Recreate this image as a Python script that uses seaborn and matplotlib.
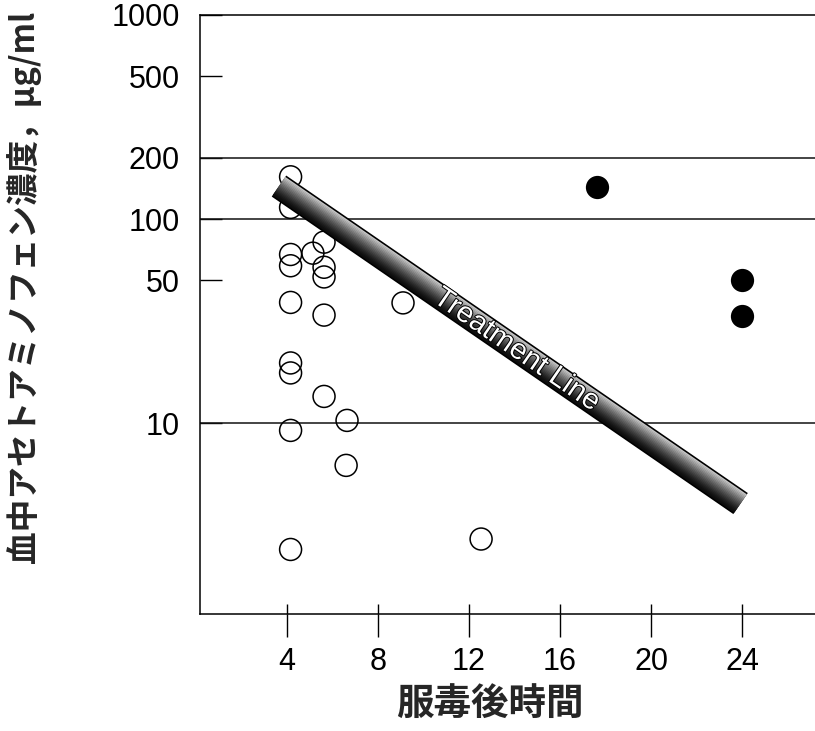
import numpy as np
import matplotlib
matplotlib.use("Agg")
import matplotlib.pyplot as plt
import matplotlib.patheffects as pe
from matplotlib.ticker import FixedLocator, NullLocator
import seaborn as sns

# hours after ingestion vs. serum acetaminophen (ug/ml)
open_x = [4.16, 4.16, 4.16, 4.16, 4.16, 4.16, 4.16, 4.16, 4.16,
          5.14, 5.63, 5.63, 5.63, 5.63, 5.63, 6.64, 6.6, 9.1, 12.53]
open_y = [161, 114, 67, 59, 39, 19.7, 17.6, 9.2, 2.4,
          68, 77, 58, 52, 33.8, 13.5, 10.3, 6.2, 38.8, 2.7]

filled_x = [17.63, 24.0, 24.0]
filled_y = [144, 50, 33.4]

# treatment line end points
treat_x = [3.65, 23.93]
treat_y = [145, 4.03]
treat_label = "Treatment Line"

x_ticks = [4, 8, 12, 16, 20, 24]
y_ticks = [10, 50, 100, 200, 500, 1000]
grid_vals = [10, 100, 200]

ylabel = "血中アセトアミノフェン濃度，μg/ml"
xlabel = "服毒後時間"

sns.set_theme(style="ticks")
plt.rcParams["font.family"] = ["Liberation Sans", "DejaVu Sans"]
jp_font = ["Noto Sans CJK JP", "DejaVu Sans"]

fig = plt.figure(figsize=(8.15, 7.31), dpi=100)
ax = fig.add_axes([0.2454, 0.16, 0.7546, 0.8195])
ax.set_yscale("log")

# horizontal reference lines
for v in grid_vals:
    ax.axhline(v, color="#111111", lw=1.1, zorder=1)

# patients
sns.scatterplot(x=open_x, y=open_y, s=250, facecolor="none", edgecolor="black",
                linewidth=1.1, ax=ax, zorder=3)
sns.scatterplot(x=filled_x, y=filled_y, s=280, color="black", edgecolor="black",
                linewidth=0, ax=ax, zorder=3)

ax.set_xlim(0.18, 27.2)
ax.set_ylim(1.158, 1000)

# direction of the bar in display space, for the shaded "cylinder" look
p0 = ax.transData.transform((treat_x[0], treat_y[0]))
p1 = ax.transData.transform((treat_x[1], treat_y[1]))
theta = np.arctan2(p1[1] - p0[1], p1[0] - p0[0])
nx, ny = -np.sin(theta), np.cos(theta)

half = 7.9
n = 18
w = 2 * half / n
offs = np.linspace(-half + w / 2, half - w / 2, n)
greys = 0.05 + 0.72 * np.linspace(0, 1, n) ** 1.4
effects = [pe.Stroke(linewidth=18.4, foreground="black")]
for o, g in zip(offs, greys):
    effects.append(pe.Stroke(offset=(o * nx, o * ny), linewidth=w * 1.3,
                             foreground=str(round(g, 3))))

sns.lineplot(x=treat_x, y=treat_y, ax=ax, lw=18, color="0.4",
             solid_capstyle="butt", path_effects=effects, zorder=4)

frac = 0.515
tx = treat_x[0] + frac * (treat_x[1] - treat_x[0])
ty = 10 ** (np.log10(treat_y[0]) + frac * (np.log10(treat_y[1]) - np.log10(treat_y[0])))
ax.text(tx, ty, treat_label, rotation=np.degrees(theta), rotation_mode="anchor",
        ha="center", va="center", color="white", fontsize=21, zorder=5,
        path_effects=[pe.withStroke(linewidth=1.4, foreground="black")])

# axes styling
ax.set_xticks(x_ticks)
ax.set_xticklabels([str(v) for v in x_ticks])
ax.xaxis.set_minor_locator(FixedLocator(x_ticks))
ax.xaxis.remove_overlapping_locs = False
ax.tick_params(axis="x", which="major", direction="out", length=16.5, width=1,
               pad=7, labelsize=22, color="black", labelcolor="black")
ax.tick_params(axis="x", which="minor", direction="in", length=7, width=1, color="black")

ax.set_yticks(y_ticks)
ax.set_yticklabels([str(v) for v in y_ticks])
ax.yaxis.set_minor_locator(NullLocator())
ax.tick_params(axis="y", which="major", direction="in", length=16, width=1,
               pad=14.4, labelsize=22, color="black", labelcolor="black")

ax.spines["right"].set_visible(False)
for s in ["left", "bottom", "top"]:
    ax.spines[s].set_color("black")
    ax.spines[s].set_linewidth(1.1)
ax.set_xlabel("")
ax.set_ylabel("")

fig.text(0.0294, 0.607, ylabel, rotation=90, ha="center", va="center",
         fontsize=23.5, family=jp_font, weight="bold")
fig.text(0.601, 0.036, xlabel, ha="center", va="center",
         fontsize=27, family=jp_font, weight="bold")

fig.savefig("out.png", dpi=100)
